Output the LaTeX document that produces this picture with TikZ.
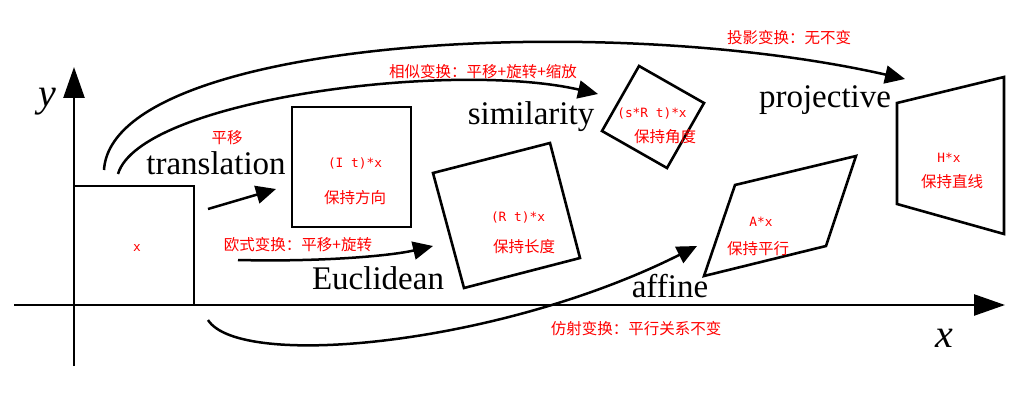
\documentclass[tikz,border=0pt]{standalone}
\usepackage{fontspec}
\setmainfont{Liberation Serif}
\newfontfamily\cjk{Noto Sans CJK SC}
\newfontfamily\monof{DejaVu Sans Mono}
\usetikzlibrary{arrows.meta}
\begin{document}
\begin{tikzpicture}[x=1pt,y=-1pt,
  shp/.style={draw, line width=2.6pt, line join=miter},
  conn/.style={line width=2.5pt, -{Triangle[length=20pt,width=18pt]}},
  axis/.style={line width=2.5pt, -{Triangle[length=31pt,width=21pt]}},
  lbl/.style={font=\fontsize{33}{36}\selectfont, anchor=base, inner sep=0pt},
  axlbl/.style={font=\fontsize{40}{44}\selectfont\itshape, anchor=base, inner sep=0pt},
  rcn/.style={text=red, font=\cjk\fontsize{15.5}{18}\selectfont, inner sep=0pt},
  rmo/.style={text=red, font=\monof\fontsize{12.8}{15}\selectfont, inner sep=0pt}]
\useasboundingbox (0,0) rectangle (1031,406);
% axes
\coordinate (xs) at (14,305);
\coordinate (xe) at (1005,305);
\coordinate (ys) at (74,366);
\coordinate (ye) at (74,67);
\draw[axis] (xs) -- (xe);
\draw[axis] (ys) -- (ye);
\node[axlbl] (ylab) at (47,107) {y};
\node[axlbl] (xlab) at (944,347) {x};
% original square
\draw[shp] (74,186) rectangle (194,305);
\node[rmo] (orig) at (137,248) {x};
% translation box
\draw[shp] (292,107) rectangle (411,227);
\node[rmo] (tA) at (355,163) {(I t)*x};
\node[rcn] (tB) at (355,198) {保持方向};
% euclidean box
\draw[shp] (433,173) -- (550,143) -- (580,258) -- (464,288) -- cycle;
\node[rmo] (eA) at (518,217) {(R t)*x};
\node[rcn] (eB) at (524,247) {保持长度};
% similarity box
\draw[shp] (639,66) -- (704,103) -- (667,168) -- (602,131) -- cycle;
\node[rmo] (sA) at (652,113) {(s*R t)*x};
\node[rcn] (sB) at (665,137) {保持角度};
% affine box
\draw[shp] (735,185) -- (856,156) -- (826,246) -- (704,276) -- cycle;
\node[rmo] (aA) at (761,222) {A*x};
\node[rcn] (aB) at (758,249) {保持平行};
% projective box
\draw[shp] (897,103) -- (1004,77) -- (1004,234) -- (897,204) -- cycle;
\node[rmo] (pA) at (949,158) {H*x};
\node[rcn] (pB) at (952,182) {保持直线};
% labels
\node[lbl] (ltr) at (216,175) {translation};
\node[lbl] (lsim) at (531,125) {similarity};
\node[lbl] (leu) at (378,289) {Euclidean};
\node[lbl] (laf) at (670,297) {affine};
\node[lbl] (lpr) at (825,108) {projective};
\node[rcn] (ctr) at (227,138) {平移};
\node[rcn] (csim) at (483,72) {相似变换：平移+旋转+缩放};
\node[rcn] (cpr) at (789,38) {投影变换：无不变};
\node[rcn] (ceu) at (298,245) {欧式变换：平移+旋转};
\node[rcn] (caf) at (636,329) {仿射变换：平行关系不变};
% connectors
\coordinate (trS) at (208,209);
\coordinate (trE) at (276,189);
\draw[conn] (trS) -- (trE);
\coordinate (euS) at (238,260);
\coordinate (euE) at (433,246);
\draw[conn] (euS) .. controls (320,262) and (390,256) .. (euE);
\coordinate (siS) at (118,174);
\coordinate (siE) at (598,94);
\draw[conn] (siS) .. controls (140,100) and (450,60) .. (siE);
\coordinate (prS) at (104,170);
\coordinate (prE) at (905,79);
\draw[conn] (prS) .. controls (112,40) and (600,10) .. (prE);
\coordinate (afS) at (208,320);
\coordinate (afE) at (697,246);
\draw[conn] (afS) .. controls (240,370) and (500,345) .. (afE);
\end{tikzpicture}
\end{document}
